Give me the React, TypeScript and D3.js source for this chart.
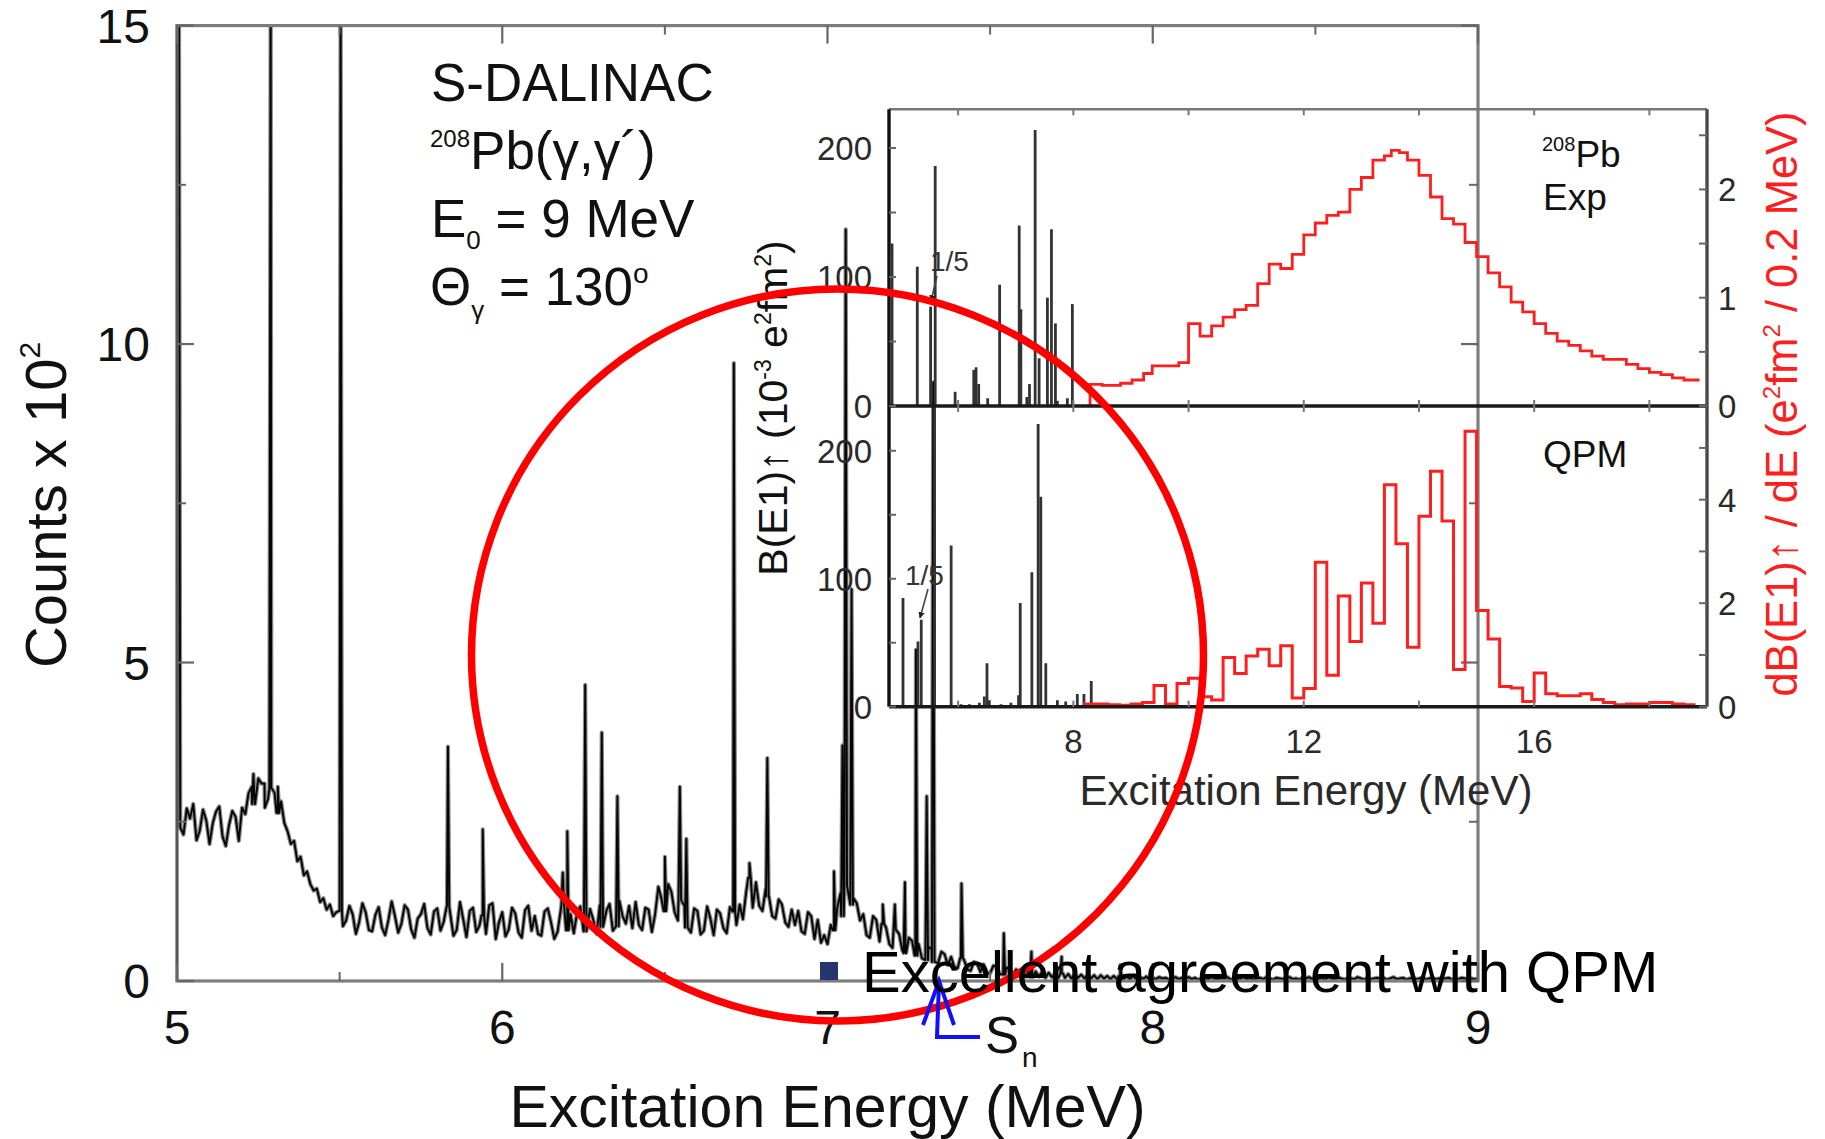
import React from 'react';
import * as d3 from 'd3';

const FONT = "'Liberation Sans', Arial, Helvetica, sans-serif";

// ---------- main spectrum: 208Pb(γ,γ') at E0 = 9 MeV ----------
const energyTicks = [5, 6, 7, 8, 9];
const energyMinorTicks = [5.5, 6.5, 7.5, 8.5];
const countTicks = [0, 5, 10, 15];
const countMinorTicks = [2.5, 7.5, 12.5];

// continuum counts (x 10^2), sampled every 10 keV from 5.00 MeV
const BG_START = 5.0;
const BG_STEP = 0.01;
const bgCounts5 = [
  2.62, 2.41, 2.30, 2.71, 2.55, 2.78, 2.21, 2.36, 2.69, 2.52,
  2.15, 2.48, 2.66, 2.74, 2.27, 2.12, 2.45, 2.67, 2.58, 2.20,
  2.72, 2.62, 2.95, 3.05, 2.78, 3.18, 3.10, 2.72, 2.86, 3.02,
  2.95, 2.64, 2.82, 2.48, 2.35, 2.15, 2.20, 1.88, 1.95, 1.66,
  1.72, 1.52, 1.42, 1.45, 1.24, 1.30, 1.12, 1.20, 1.02, 1.08,
  1.10, 0.86, 0.95, 1.18, 1.05, 0.74, 0.92, 1.22, 1.08, 0.80,
  0.78, 1.04, 1.16, 0.84, 0.72, 0.96, 1.25, 1.02, 0.76, 0.90,
  1.19, 1.12, 0.81, 0.68, 0.98, 1.05, 1.21, 0.83, 0.73, 1.09,
  1.14, 0.79, 0.93, 1.17, 1.06, 0.71, 0.80, 1.24, 0.97, 0.69,
  1.10, 1.15, 0.77, 0.87, 1.03, 0.74, 1.19, 1.22, 0.66, 0.92,
];
const bgCounts6 = [
  1.08, 0.70, 0.81, 1.15, 1.06, 0.76, 0.68, 1.11, 1.18, 0.79,
  1.02, 0.74, 0.71, 1.09, 1.14, 0.92, 0.66, 0.77, 1.12, 1.20,
  0.80, 1.05, 0.75, 1.07, 1.17, 0.78, 0.82, 1.13, 0.96, 0.74,
  1.19, 0.85, 1.10, 1.21, 0.79, 0.86, 1.26, 1.02, 0.90, 1.18,
  0.83, 1.24, 0.88, 0.80, 1.15, 1.12, 0.77, 1.05, 1.48, 1.28,
  1.10, 1.52, 1.40, 1.08, 0.95, 1.27, 1.18, 0.84, 0.76, 1.14,
  1.10, 0.73, 0.79, 1.17, 0.98, 0.72, 1.12, 1.06, 0.83, 0.75,
  1.16, 1.09, 0.88, 1.20, 0.97, 1.40, 1.62, 1.15, 1.55, 1.18,
  1.10, 1.45, 1.33, 1.02, 0.98, 1.28, 1.20, 0.92, 0.85, 1.12,
  0.88, 1.10, 0.78, 0.74, 1.08, 1.02, 0.66, 0.96, 0.60, 0.72,
];
const bgCounts7 = [
  0.58, 0.88, 0.80, 1.15, 1.38, 1.02, 1.50, 1.20, 1.30, 1.22,
  0.95, 1.05, 0.72, 0.68, 1.02, 0.96, 0.62, 0.90, 0.84, 0.58,
  0.52, 0.80, 0.74, 0.48, 0.44, 0.68, 0.63, 0.40, 0.58, 0.36,
  0.33, 0.54, 0.50, 0.30, 0.28, 0.46, 0.42, 0.25, 0.38, 0.22,
  0.20, 0.36, 0.33, 0.18, 0.16, 0.30, 0.28, 0.14, 0.26, 0.13,
  0.12, 0.24, 0.22, 0.11, 0.10, 0.21, 0.19, 0.09, 0.18, 0.08,
  0.17, 0.07, 0.16, 0.06, 0.15, 0.07, 0.14, 0.05, 0.13, 0.06,
  0.12, 0.05, 0.12, 0.05, 0.11, 0.04, 0.11, 0.05, 0.10, 0.04,
  0.10, 0.04, 0.09, 0.03, 0.09, 0.04, 0.08, 0.03, 0.08, 0.03,
  0.08, 0.03, 0.07, 0.03, 0.08, 0.02, 0.07, 0.03, 0.07, 0.02,
];
const bgCounts8 = [
  0.05, 0.03, 0.06, 0.04, 0.05, 0.02, 0.04, 0.06, 0.03, 0.05,
  0.04, 0.06, 0.03, 0.05, 0.02, 0.04, 0.05, 0.03, 0.06, 0.04,
  0.03, 0.05, 0.04, 0.06, 0.02, 0.05, 0.03, 0.04, 0.06, 0.03,
  0.05, 0.02, 0.04, 0.05, 0.03, 0.06, 0.04, 0.02, 0.05, 0.04,
  0.03, 0.05, 0.06, 0.03, 0.04, 0.02, 0.05, 0.04, 0.06, 0.03,
  0.04, 0.03, 0.05, 0.02, 0.06, 0.04, 0.03, 0.05, 0.04, 0.02,
  0.05, 0.04, 0.03, 0.06, 0.04, 0.02, 0.05, 0.03, 0.04, 0.05,
  0.03, 0.05, 0.02, 0.04, 0.06, 0.03, 0.04, 0.05, 0.02, 0.04,
  0.05, 0.03, 0.04, 0.06, 0.02, 0.04, 0.05, 0.03, 0.04, 0.03,
  0.04, 0.05, 0.02, 0.04, 0.03, 0.05, 0.04, 0.02, 0.04, 0.03, 0.04,
];

// discrete gamma lines: [energy (MeV), peak counts (x 10^2)]
const peaks: [number, number][] = [
  [5.006, 16], [5.235, 3.25], [5.265, 3.1], [5.288, 16], [5.31, 3.05],
  [5.503, 16], [5.833, 3.68], [5.94, 2.38], [6.186, 1.7], [6.2, 2.35],
  [6.255, 4.65], [6.306, 3.9], [6.354, 2.9], [6.5, 1.95], [6.546, 3.05],
  [6.566, 2.23], [6.712, 9.7], [6.76, 1.85], [6.815, 3.5], [7.02, 1.72],
  [7.046, 3.7], [7.056, 11.8], [7.074, 6.15], [7.17, 1.2], [7.207, 1.2],
  [7.238, 1.55], [7.272, 5.2], [7.305, 2.9], [7.325, 9.4], [7.412, 1.53],
  [7.542, 0.75], [7.627, 0.46], [7.72, 0.38], [7.9, 0.25],
];

// ---------- inset: B(E1) strength, experiment vs QPM ----------
const insetEnergyTicks = [6, 8, 10, 12, 14, 16, 18];
const insetEnergyLabels = [8, 12, 16];
const bTicks = [0, 50, 100, 150, 200];
const bLabels = [0, 100, 200];
const expDensityTicks = [0, 0.5, 1, 1.5, 2, 2.5];
const expDensityLabels = [0, 1, 2];
const qpmDensityTicks = [0, 1, 2, 3, 4, 5];
const qpmDensityLabels = [0, 2, 4];

// bound-state strengths [E (MeV), B(E1)↑ (10^-3 e^2fm^2)]
const expLines: [number, number][] = [
  [4.853, 126], [5.291, 108], [5.522, 77], [5.602, 186], [5.948, 11],
  [6.271, 28], [6.311, 30], [6.357, 17], [6.513, 6], [6.72, 94],
  [7.06, 140], [7.089, 75], [7.193, 7], [7.239, 17], [7.337, 214],
  [7.406, 37], [7.55, 84], [7.62, 137], [7.689, 64], [7.723, 4],
  [7.896, 6], [7.983, 79],
];
const qpmLines: [number, number][] = [
  [5.043, 85], [5.303, 51], [5.36, 68], [5.591, 240], [5.879, 126],
  [6.052, 2], [6.196, 2], [6.369, 3], [6.455, 8], [6.501, 34],
  [6.542, 5], [6.744, 2], [6.916, 3], [7.049, 9], [7.078, 81],
  [7.28, 105], [7.389, 221], [7.435, 164], [7.522, 34], [7.723, 5],
  [7.867, 4], [8.069, 10], [8.184, 10], [8.311, 20],
];

// strength distribution above threshold, dB/dE (e^2fm^2 / 0.2 MeV)
const expEdges = [
  8.29, 8.5, 8.82, 9.02, 9.22, 9.37, 9.83, 10.0, 10.2, 10.4, 10.6, 10.8,
  11.0, 11.2, 11.4, 11.6, 11.8, 12.0, 12.2, 12.4, 12.6, 12.8, 13.0, 13.2,
  13.4, 13.52, 13.66, 13.8, 14.0, 14.2, 14.4, 14.6, 14.8, 15.0, 15.2, 15.4,
  15.6, 15.8, 16.0, 16.2, 16.4, 16.6, 16.8, 17.0, 17.2, 17.4, 17.6, 17.8,
  18.0, 18.2, 18.4, 18.6, 18.87,
];
const expValues = [
  0.2, 0.19, 0.21, 0.24, 0.3, 0.37, 0.4, 0.76, 0.645, 0.74, 0.82, 0.89,
  0.93, 1.13, 1.31, 1.27, 1.4, 1.58, 1.69, 1.76, 1.79, 2.0, 2.11, 2.27,
  2.31, 2.36, 2.34, 2.27, 2.13, 1.93, 1.73, 1.68, 1.51, 1.38, 1.23, 1.1,
  0.96, 0.87, 0.76, 0.67, 0.6, 0.56, 0.51, 0.46, 0.43, 0.43, 0.385, 0.345,
  0.31, 0.29, 0.26, 0.24,
];
const QPM_START = 8.2;
const QPM_BIN = 0.2;
const qpmValues = [
  0.05, 0.05, 0.04, 0.03, 0.05, 0.08, 0.41, 0.05, 0.45, 0.55,
  0.19, 0.13, 0.95, 0.64, 0.98, 1.11, 0.79, 1.18, 0.17, 0.35,
  2.79, 0.61, 2.14, 1.26, 2.39, 1.61, 4.29, 3.15, 1.15, 3.68,
  4.55, 3.59, 0.72, 5.32, 1.86, 1.31, 0.39, 0.36, 0.1, 0.65,
  0.25, 0.21, 0.21, 0.25, 0.14, 0.08, 0.04, 0.05, 0.05, 0.08,
  0.08, 0.05, 0.04,
];

type Pt = [number, number];

export default function App() {
  // main frame
  const L = 177, R = 1478, T = 25.6, B = 981;
  const x = d3.scaleLinear().domain([5, 9]).range([L, R]);
  const y = d3.scaleLinear().domain([0, 15]).range([B, T]);

  const bgCounts = [...bgCounts5, ...bgCounts6, ...bgCounts7, ...bgCounts8];
  const bgPts: Pt[] = bgCounts.map((c, i) => [BG_START + i * BG_STEP, c]);
  const peakPts: Pt[] = peaks.flatMap(([e, h]) => {
    const i = Math.max(0, Math.min(bgCounts.length - 1, Math.round((e - BG_START) / BG_STEP)));
    const base = bgCounts[i];
    return [[e - 0.004, base], [e, h], [e + 0.004, base]] as Pt[];
  });
  const spectrum = [...bgPts, ...peakPts].sort((a, b) => a[0] - b[0]);
  const specLine = d3.line<Pt>().x((d) => x(d[0])).y((d) => y(d[1]));
  const specPath = specLine(spectrum) || '';

  // inset frame
  const IL = 889, IR = 1707, IT = 109.3, IM = 406, IB = 706.7;
  const ix = d3.scaleLinear().domain([4.8, 19]).range([IL, IR]);
  const upB = d3.scaleLinear().domain([0, 230]).range([IM, IT]);
  const upD = d3.scaleLinear().domain([0, 2.74]).range([IM, IT]);
  const loB = d3.scaleLinear().domain([0, 235]).range([IB, IM]);
  const loD = d3.scaleLinear().domain([0, 5.81]).range([IB, IM]);

  const expPts: Pt[] = [
    [expEdges[0], 0],
    ...expValues.map((v, i) => [expEdges[i], v] as Pt),
    [expEdges[expEdges.length - 1], expValues[expValues.length - 1]],
  ];
  const qpmPts: Pt[] = [
    [QPM_START, 0],
    ...qpmValues.map((v, i) => [QPM_START + i * QPM_BIN, v] as Pt),
    [QPM_START + qpmValues.length * QPM_BIN, qpmValues[qpmValues.length - 1]],
  ];
  const expPath = d3.line<Pt>().curve(d3.curveStepAfter).x((d) => ix(d[0])).y((d) => upD(d[1]))(expPts);
  const qpmPath = d3.line<Pt>().curve(d3.curveStepAfter).x((d) => ix(d[0])).y((d) => loD(d[1]))(qpmPts);

  const tickCol = '#666';

  return (
    <svg
      width={1825}
      height={1139}
      viewBox="0 0 1825 1139"
      style={{ position: 'absolute', left: 0, top: 0, display: 'block', background: '#fff' }}
      fontFamily={FONT}
    >
      <defs>
        <clipPath id="mainClip">
          <rect x={L} y={T} width={R - L} height={B - T} />
        </clipPath>
        <clipPath id="upClip">
          <rect x={IL} y={IT} width={IR - IL} height={IM - IT} />
        </clipPath>
        <clipPath id="loClip">
          <rect x={IL} y={IM} width={IR - IL} height={IB - IM} />
        </clipPath>
        <marker id="head" viewBox="0 0 10 10" refX="9" refY="5" markerWidth="4" markerHeight="4" orient="auto">
          <path d="M0,0 L10,5 L0,10 z" fill="#222" />
        </marker>
      </defs>
      <rect x={0} y={0} width={1825} height={1139} fill="#fff" />

      {/* spectrum */}
      <g clipPath="url(#mainClip)">
        <path d={specPath} fill="none" stroke="#8c8c8c" strokeWidth={4.2} strokeLinejoin="round" />
        <path d={specPath} fill="none" stroke="#050505" strokeWidth={1.9} strokeLinejoin="round" />
      </g>

      {/* main frame and ticks */}
      <rect x={L} y={T} width={R - L} height={B - T} fill="none" stroke="#7d7d7d" strokeWidth={3.2} />
      <line x1={L} x2={L} y1={T} y2={B} stroke="#555" strokeWidth={2.4} />
      {energyTicks.map((t) => (
        <g key={'xt' + t} stroke={tickCol} strokeWidth={2.2}>
          <line x1={x(t)} x2={x(t)} y1={B} y2={B - 18} />
          <line x1={x(t)} x2={x(t)} y1={T} y2={T + 18} />
        </g>
      ))}
      {energyMinorTicks.map((t) => (
        <g key={'xm' + t} stroke={tickCol} strokeWidth={2}>
          <line x1={x(t)} x2={x(t)} y1={B} y2={B - 9} />
          <line x1={x(t)} x2={x(t)} y1={T} y2={T + 9} />
        </g>
      ))}
      {countTicks.map((t) => (
        <g key={'yt' + t} stroke={tickCol} strokeWidth={2.2}>
          <line x1={L} x2={L + 17} y1={y(t)} y2={y(t)} />
          <line x1={R} x2={R - 17} y1={y(t)} y2={y(t)} />
        </g>
      ))}
      {countMinorTicks.map((t) => (
        <g key={'ym' + t} stroke={tickCol} strokeWidth={2}>
          <line x1={L} x2={L + 9} y1={y(t)} y2={y(t)} />
          <line x1={R} x2={R - 9} y1={y(t)} y2={y(t)} />
        </g>
      ))}
      {energyTicks.map((t) => (
        <text key={'xl' + t} x={x(t)} y={1044} fontSize={48} textAnchor="middle" fill="#111">
          {t}
        </text>
      ))}
      {countTicks.map((t) => (
        <text key={'yl' + t} x={150} y={y(t) + 17} fontSize={48} textAnchor="end" fill="#111">
          {t}
        </text>
      ))}
      <text x={827.5} y={1127} fontSize={59} textAnchor="middle" fill="#111">
        Excitation Energy (MeV)
      </text>
      <text transform="translate(66,505) rotate(-90)" fontSize={58} textAnchor="middle" fill="#111">
        Counts x 10<tspan fontSize={30} dy={-26}>2</tspan>
      </text>

      {/* experiment label */}
      <g fill="#111" fontSize={53}>
        <text x={431} y={101}>S-DALINAC</text>
        <text x={430} y={169}>
          <tspan fontSize={24} dy={-22}>208</tspan>
          <tspan dy={22}>Pb(γ,γ´)</tspan>
        </text>
        <text x={431} y={237}>
          E<tspan fontSize={26} dy={12}>0</tspan>
          <tspan dy={-12}> = 9 MeV</tspan>
        </text>
        <text x={430} y={305}>
          Θ<tspan fontSize={26} dy={14}>γ</tspan>
          <tspan dy={-14}> = 130</tspan>
          <tspan fontSize={28} dy={-22}>o</tspan>
        </text>
      </g>

      {/* inset */}
      <g>
        <g clipPath="url(#upClip)">
          {expLines.map(([e, b], i) => (
            <line key={'el' + i} x1={ix(e)} x2={ix(e)} y1={IM} y2={upB(b)} stroke="#333" strokeWidth={2.8} />
          ))}
          <path d={expPath || ''} fill="none" stroke="#ff1e1e" strokeWidth={2.8} />
        </g>
        <g clipPath="url(#loClip)">
          {qpmLines.map(([e, b], i) => (
            <line key={'ql' + i} x1={ix(e)} x2={ix(e)} y1={IB} y2={loB(b)} stroke="#333" strokeWidth={2.8} />
          ))}
          <path d={qpmPath || ''} fill="none" stroke="#ff1e1e" strokeWidth={3} />
        </g>

        {/* inset axes */}
        <line x1={IL} x2={IR} y1={IT} y2={IT} stroke="#777" strokeWidth={2.6} />
        <line x1={IL} x2={IR} y1={IM} y2={IM} stroke="#1a1a1a" strokeWidth={3.4} />
        <line x1={IL} x2={IR} y1={IB} y2={IB} stroke="#1a1a1a" strokeWidth={3.4} />
        <line x1={IL} x2={IL} y1={IT} y2={IB} stroke="#111" strokeWidth={3.4} />
        <line x1={IR} x2={IR} y1={IT} y2={IB} stroke="#4a4a4a" strokeWidth={3.4} />

        {insetEnergyTicks.map((t) => (
          <g key={'it' + t} stroke="#777" strokeWidth={2}>
            <line x1={ix(t)} x2={ix(t)} y1={IT} y2={IT + 6} />
            <line x1={ix(t)} x2={ix(t)} y1={IM} y2={IM - 6} />
            <line x1={ix(t)} x2={ix(t)} y1={IM} y2={IM + 6} />
            <line x1={ix(t)} x2={ix(t)} y1={IB} y2={IB - 6} />
          </g>
        ))}
        {bTicks.map((t) => (
          <g key={'bt' + t} stroke="#666" strokeWidth={2}>
            <line x1={IL} x2={IL + 7} y1={upB(t)} y2={upB(t)} />
            <line x1={IL} x2={IL + 7} y1={loB(t)} y2={loB(t)} />
          </g>
        ))}
        {expDensityTicks.map((t) => (
          <line key={'ed' + t} x1={IR} x2={IR - 8} y1={upD(t)} y2={upD(t)} stroke="#666" strokeWidth={2} />
        ))}
        {qpmDensityTicks.map((t) => (
          <line key={'qd' + t} x1={IR} x2={IR - 8} y1={loD(t)} y2={loD(t)} stroke="#666" strokeWidth={2} />
        ))}

        <g fontSize={33} fill="#2a2a2a">
          {bLabels.map((t) => (
            <text key={'bu' + t} x={872} y={upB(t) + 12} textAnchor="end">{t}</text>
          ))}
          {bLabels.map((t) => (
            <text key={'bl' + t} x={872} y={loB(t) + 12} textAnchor="end">{t}</text>
          ))}
          {expDensityLabels.map((t) => (
            <text key={'du' + t} x={1718} y={upD(t) + 12}>{t}</text>
          ))}
          {qpmDensityLabels.map((t) => (
            <text key={'dl' + t} x={1718} y={loD(t) + 12}>{t}</text>
          ))}
          {insetEnergyLabels.map((t) => (
            <text key={'il' + t} x={ix(t)} y={753} textAnchor="middle">{t}</text>
          ))}
        </g>
        <text x={1306} y={805} fontSize={42} textAnchor="middle" fill="#2a2a2a">
          Excitation Energy (MeV)
        </text>
        <text transform="translate(787,408) rotate(-90)" fontSize={41} textAnchor="middle" fill="#111">
          B(E1)↑ (10<tspan fontSize={23} dy={-16}>-3</tspan>
          <tspan dy={16}> e</tspan>
          <tspan fontSize={23} dy={-16}>2</tspan>
          <tspan dy={16}>fm</tspan>
          <tspan fontSize={23} dy={-16}>2</tspan>
          <tspan dy={16}>)</tspan>
        </text>
        <text transform="translate(1797,404) rotate(-90)" fontSize={43.5} textAnchor="middle" fill="#ff1e1e">
          dB(E1)↑ / dE (e<tspan fontSize={24} dy={-17}>2</tspan>
          <tspan dy={17}>fm</tspan>
          <tspan fontSize={24} dy={-17}>2</tspan>
          <tspan dy={17}> / 0.2 MeV)</tspan>
        </text>

        <text x={1542} y={167} fontSize={37} fill="#111">
          <tspan fontSize={20} dy={-16}>208</tspan>
          <tspan dy={16}>Pb</tspan>
        </text>
        <text x={1543} y={210} fontSize={37} fill="#111">Exp</text>
        <text x={1543} y={467} fontSize={37} fill="#111">QPM</text>

        <text x={930} y={271} fontSize={28} fill="#333">1/5</text>
        <line x1={937} y1={276} x2={931} y2={301} stroke="#444" strokeWidth={1.6} markerEnd="url(#head)" />
        <text x={905} y={585} fontSize={28} fill="#333">1/5</text>
        <line x1={928} y1={589} x2={920} y2={618} stroke="#444" strokeWidth={1.6} markerEnd="url(#head)" />
      </g>

      {/* highlight */}
      <circle cx={837.5} cy={655} r={366} fill="none" stroke="#ff0000" strokeWidth={7.5} />

      {/* neutron threshold */}
      <g stroke="#1010ff" strokeWidth={4} fill="none" strokeLinejoin="miter">
        <path d="M980,1037 L937,1037 L939,983" />
        <path d="M923,1025 L939,981 L954,1025" />
      </g>
      <text x={985} y={1053} fontSize={51} fill="#111">S</text>
      <text x={1022} y={1067} fontSize={28} fill="#111">n</text>

      {/* bullet */}
      <rect x={820} y={962} width={18} height={18} fill="#27356f" />
      <text x={862} y={992} fontSize={58} fill="#000">Excellent agreement with QPM</text>
    </svg>
  );
}
